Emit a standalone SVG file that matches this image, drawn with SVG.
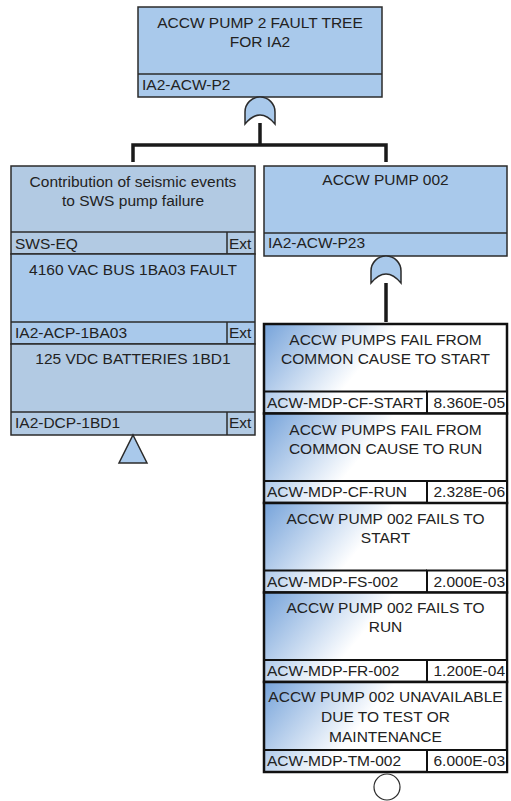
<svg xmlns="http://www.w3.org/2000/svg" width="511" height="801" viewBox="0 0 511 801">
<defs>
<linearGradient id="be" x1="0" y1="0" x2="0.5" y2="0.15">
<stop offset="0" stop-color="#76a3da"/>
<stop offset="1" stop-color="#ffffff"/>
</linearGradient>
</defs>
<style>
text{font-family:"Liberation Sans",Arial,sans-serif;font-size:15.5px;fill:#222}
.c{text-anchor:middle}
.r{text-anchor:end}
.g{fill:#a9c9eb;stroke:#2b2b2b;stroke-width:1.5}
.g2{fill:#b2cae3;stroke:#2b2b2b;stroke-width:1.5}
.ln{fill:none;stroke:#2b2b2b;stroke-width:1.5}
.b{fill:url(#be);stroke:#111;stroke-width:2.5}
.bl{fill:none;stroke:#111;stroke-width:2}
.pw{fill:#fff;stroke:#111;stroke-width:2}
.con{fill:none;stroke:#1a1a1a;stroke-width:3.5;stroke-linejoin:miter}
.gate{fill:#a9c9eb;stroke:#2b2b2b;stroke-width:1.5}
</style>
<rect width="511" height="801" fill="#fff"/>
<g id="connectors">
<path class="con" d="M260,123 V145 M133,162 V145 H386 V162"/>
<path class="con" d="M386,283 V322"/>
</g>
<g id="top">
<rect class="g" x="138" y="7" width="244" height="90"/>
<line class="ln" x1="138" y1="74" x2="382" y2="74"/>
<text class="c" x="260" y="28">ACCW PUMP 2 FAULT TREE</text>
<text class="c" x="260" y="47">FOR IA2</text>
<text x="142" y="90">IA2-ACW-P2</text>
<path class="gate" d="M245,124 V112 A15,15 0 0 1 275,112 V124 Q260,106 245,124 Z"/>
</g>
<g id="sws-eq">
<rect class="g2" x="11" y="166" width="244" height="88"/>
<line class="ln" x1="11" y1="232" x2="255" y2="232"/>
<line class="ln" x1="227" y1="232" x2="227" y2="254"/>
<text class="c" x="133" y="187">Contribution of seismic events</text>
<text class="c" x="133" y="206">to SWS pump failure</text>
<text x="15" y="249">SWS-EQ</text>
<text x="229" y="249">Ext</text>
</g>
<g id="acp-1ba03">
<rect class="g" x="11" y="254" width="244" height="90"/>
<line class="ln" x1="11" y1="322" x2="255" y2="322"/>
<line class="ln" x1="227" y1="322" x2="227" y2="344"/>
<text class="c" x="133" y="275">4160 VAC BUS 1BA03 FAULT</text>
<text x="15" y="338">IA2-ACP-1BA03</text>
<text x="229" y="338">Ext</text>
</g>
<g id="dcp-1bd1">
<rect class="g2" x="11" y="344" width="244" height="91"/>
<line class="ln" x1="11" y1="412" x2="255" y2="412"/>
<line class="ln" x1="227" y1="412" x2="227" y2="435"/>
<text class="c" x="133" y="364">125 VDC BATTERIES 1BD1</text>
<text x="15" y="428">IA2-DCP-1BD1</text>
<text x="229" y="428">Ext</text>
<path class="gate" d="M133,435 L147,463 H119 Z"/>
</g>
<g id="p23">
<rect class="g" x="264" y="166" width="243" height="90"/>
<line class="ln" x1="264" y1="233" x2="507" y2="233"/>
<text class="c" x="385.5" y="185">ACCW PUMP 002</text>
<text x="268" y="248">IA2-ACW-P23</text>
<path class="gate" d="M371,283 V271 A15,15 0 0 1 401,271 V283 Q386,265 371,283 Z"/>
</g>
<g id="cf-start">
<rect class="b" x="264" y="324" width="243" height="89.5"/>
<rect class="pw" x="427" y="391.5" width="80" height="22"/>
<line class="bl" x1="264" y1="391.5" x2="427" y2="391.5"/>
<text class="c" x="385.5" y="345">ACCW PUMPS FAIL FROM</text>
<text class="c" x="385.5" y="364">COMMON CAUSE TO START</text>
<text x="267" y="407.5">ACW-MDP-CF-START</text>
<text class="r" x="505" y="407.5">8.360E-05</text>
</g>
<g id="cf-run">
<rect class="b" x="264" y="413.5" width="243" height="89.5"/>
<rect class="pw" x="427" y="481" width="80" height="22"/>
<line class="bl" x1="264" y1="481" x2="427" y2="481"/>
<text class="c" x="385.5" y="435">ACCW PUMPS FAIL FROM</text>
<text class="c" x="385.5" y="454">COMMON CAUSE TO RUN</text>
<text x="267" y="497">ACW-MDP-CF-RUN</text>
<text class="r" x="505" y="497">2.328E-06</text>
</g>
<g id="fs-002">
<rect class="b" x="264" y="503" width="243" height="89.5"/>
<rect class="pw" x="427" y="570.5" width="80" height="22"/>
<line class="bl" x1="264" y1="570.5" x2="427" y2="570.5"/>
<text class="c" x="385.5" y="524">ACCW PUMP 002 FAILS TO</text>
<text class="c" x="385.5" y="543">START</text>
<text x="267" y="586.5">ACW-MDP-FS-002</text>
<text class="r" x="505" y="586.5">2.000E-03</text>
</g>
<g id="fr-002">
<rect class="b" x="264" y="592.5" width="243" height="89.5"/>
<rect class="pw" x="427" y="660" width="80" height="22"/>
<line class="bl" x1="264" y1="660" x2="427" y2="660"/>
<text class="c" x="385.5" y="613">ACCW PUMP 002 FAILS TO</text>
<text class="c" x="385.5" y="632">RUN</text>
<text x="267" y="676">ACW-MDP-FR-002</text>
<text class="r" x="505" y="676">1.200E-04</text>
</g>
<g id="tm-002">
<rect class="b" x="264" y="682" width="243" height="90"/>
<rect class="pw" x="427" y="750" width="80" height="22"/>
<line class="bl" x1="264" y1="750" x2="427" y2="750"/>
<text class="c" x="385.5" y="702">ACCW PUMP 002 UNAVAILABLE</text>
<text class="c" x="385.5" y="722">DUE TO TEST OR</text>
<text class="c" x="385.5" y="742">MAINTENANCE</text>
<text x="267" y="766">ACW-MDP-TM-002</text>
<text class="r" x="505" y="766">6.000E-03</text>
<circle cx="387" cy="787" r="13" fill="#fff" stroke="#2b2b2b" stroke-width="1.2"/>
</g>
</svg>
